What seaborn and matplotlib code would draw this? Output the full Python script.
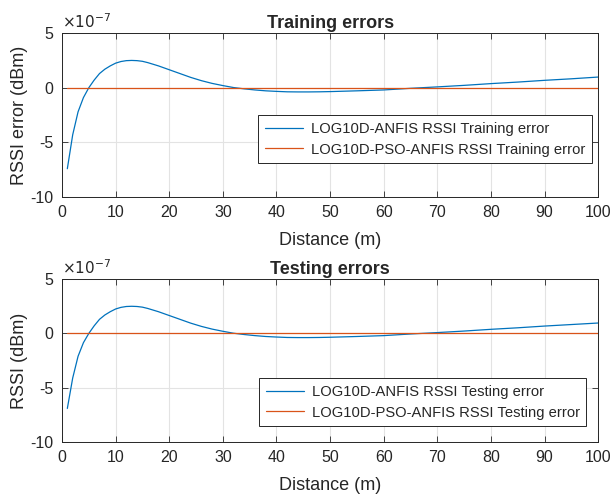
import pandas as pd
import seaborn as sns
import matplotlib.pyplot as plt

# distance points (m) and RSSI errors, in units of 1e-7 dBm
distance = [1, 2, 3, 4, 5, 6, 7, 8, 9, 10, 11, 12, 13, 14, 15, 16, 18, 20,
            22, 24, 26, 28, 30, 32, 34, 36, 38, 40, 42, 44, 46, 48, 50, 55,
            60, 65, 70, 75, 80, 85, 90, 95, 100]
anfis_train = [-7.4, -4.3, -2.2, -0.9, 0.0, 0.7, 1.3, 1.7, 2.0, 2.25, 2.4,
               2.48, 2.5, 2.48, 2.42, 2.3, 2.0, 1.65, 1.3, 0.95, 0.65, 0.4,
               0.2, 0.02, -0.1, -0.2, -0.28, -0.33, -0.37, -0.38, -0.38,
               -0.37, -0.35, -0.28, -0.2, -0.05, 0.08, 0.22, 0.38, 0.52,
               0.68, 0.82, 0.98]
anfis_test = [-6.9, -4.1, -2.1, -0.85, 0.0, 0.7, 1.3, 1.7, 2.0, 2.25, 2.4,
              2.48, 2.5, 2.48, 2.42, 2.3, 2.0, 1.65, 1.3, 0.95, 0.65, 0.4,
              0.2, 0.02, -0.1, -0.2, -0.28, -0.33, -0.37, -0.38, -0.38,
              -0.37, -0.35, -0.28, -0.2, -0.05, 0.08, 0.22, 0.38, 0.52,
              0.68, 0.82, 0.96]
pso_train = [0.0] * len(distance)
pso_test = [0.0] * len(distance)

x_ticks = [0, 10, 20, 30, 40, 50, 60, 70, 80, 90, 100]
y_ticks = [-10, -5, 0, 5]

BLUE = '#0072BD'
ORANGE = '#D95319'

sns.set_theme(style='ticks')
plt.rcParams['font.family'] = ['Liberation Sans', 'DejaVu Sans']
plt.rcParams['axes.unicode_minus'] = False

fig = plt.figure(figsize=(6.1, 4.94), dpi=100)
ax1 = fig.add_axes([0.1016, 0.601, 0.879, 0.332])
ax2 = fig.add_axes([0.1016, 0.105, 0.879, 0.330])

panels = [
    (ax1, anfis_train, pso_train, 'Training errors', 'RSSI error (dBm)',
     ['LOG10D-ANFIS RSSI Training error', 'LOG10D-PSO-ANFIS RSSI Training error'],
     (0.988, 0.207)),
    (ax2, anfis_test, pso_test, 'Testing errors', 'RSSI (dBm)',
     ['LOG10D-ANFIS RSSI Testing error', 'LOG10D-PSO-ANFIS RSSI Testing error'],
     (0.978, 0.098)),
]

for ax, blue_vals, red_vals, title, ylabel, labels, anchor in panels:
    df = pd.DataFrame({'Distance': distance, 'a': blue_vals, 'b': red_vals})
    sns.lineplot(data=df, x='Distance', y='a', ax=ax, color=BLUE, lw=0.9, label=labels[0])
    sns.lineplot(data=df, x='Distance', y='b', ax=ax, color=ORANGE, lw=0.9, label=labels[1])

    ax.set_xlim(0, 100)
    ax.set_ylim(-10, 5)
    ax.set_xticks(x_ticks)
    ax.set_yticks(y_ticks)
    ax.grid(True, color='#e3e3e3', lw=0.8)
    ax.set_axisbelow(True)
    ax.tick_params(direction='in', top=True, right=True, labelsize=11.5,
                   colors='#262626', length=4, width=0.6, pad=6)
    for s in ax.spines.values():
        s.set_color('#262626')
        s.set_linewidth(0.7)

    ax.set_title(title, fontsize=13, fontweight='bold', pad=4)
    ax.set_xlabel('Distance (m)', fontsize=13, color='#262626', labelpad=8)
    ax.set_ylabel(ylabel, fontsize=13, color='#262626', labelpad=2)
    ax.text(0.0, 1.01, r'$\times 10^{-7}$', transform=ax.transAxes, fontsize=11,
            color='#262626', va='bottom', ha='left')

    leg = ax.legend(loc='lower right', bbox_to_anchor=anchor, fontsize=10.6,
                    fancybox=False, framealpha=1, edgecolor='#262626',
                    borderpad=0.45, handlelength=2.6, labelspacing=0.45,
                    handletextpad=0.5, borderaxespad=0)
    leg.get_frame().set_linewidth(0.7)

plt.savefig('out.png', dpi=100)
